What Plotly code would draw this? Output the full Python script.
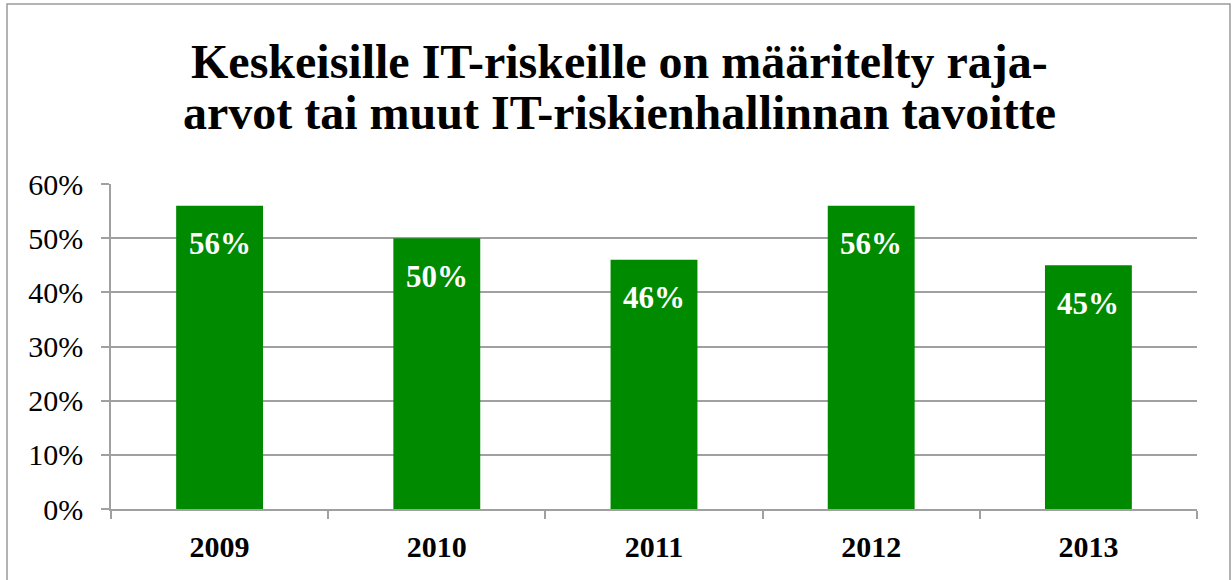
import plotly.graph_objects as go

years = ["2009", "2010", "2011", "2012", "2013"]
values = [0.56, 0.50, 0.46, 0.56, 0.45]
labels = ["56%", "50%", "46%", "56%", "45%"]
title_lines = ["Keskeisille IT-riskeille on määritelty raja-",
               "arvot tai muut IT-riskienhallinnan tavoitte"]

W, H = 1232, 580
ml, mr, mt, mb = 111, 35, 184, 71
pw, ph = W - ml - mr, H - mt - mb

def px_x(x):
    return (x - ml) / pw

def px_y(y):
    return (H - mb - y) / ph

fig = go.Figure()
fig.add_trace(go.Bar(
    x=years, y=values, width=0.4,
    marker=dict(color="#008A00", line=dict(width=0)),
    hoverinfo="skip",
))

for i, (v, lab) in enumerate(zip(values, labels)):
    fig.add_annotation(x=i, y=v, xref="x", yref="y", text="<b>" + lab + "</b>", showarrow=False,
                       yshift=-38, font=dict(family="Liberation Serif", size=31, color="white"))

# title as two lines (tight line spacing)
for line, yc in zip(title_lines, [61, 113]):
    fig.add_annotation(x=px_x(619), y=px_y(yc), xref="paper", yref="paper", text="<b>" + line + "</b>",
                       showarrow=False, xanchor="center", yanchor="middle",
                       font=dict(family="Liberation Serif", size=48, color="black"))

# frame border
fig.add_shape(type="rect", xref="paper", yref="paper",
              x0=px_x(7), x1=px_x(1230), y0=px_y(590), y1=px_y(4),
              line=dict(color="#9A9A9A", width=1.5), layer="below")

fig.update_layout(
    width=W, height=H,
    margin=dict(l=ml, r=mr, t=mt, b=mb),
    paper_bgcolor="white", plot_bgcolor="white",
    showlegend=False,
    xaxis=dict(type="category", range=[-0.5, 4.5], showgrid=False, showline=True,
               linecolor="#A0A0A0", linewidth=1.5,
               ticks="outside", tickson="boundaries", ticklen=8, tickcolor="#A0A0A0", tickwidth=1.5,
               tickfont=dict(family="Liberation Serif", size=30, color="black"),
               tickprefix="<b>", ticksuffix="</b>", tickangle=0, ticklabelstandoff=10),
    yaxis=dict(range=[0, 0.6], dtick=0.1, tickformat=".0%", showgrid=True, gridcolor="#A0A0A0",
               gridwidth=1.5, showline=True, linecolor="#A0A0A0", linewidth=1.5, zeroline=False,
               ticks="outside", ticklen=8, tickcolor="#A0A0A0", tickwidth=1.5,
               tickfont=dict(family="Liberation Serif", size=30, color="black"),
               ticklabelstandoff=12),
)

fig.write_html("out.html", config={"displayModeBar": False},
               post_script="document.body.style.margin='0px';")
